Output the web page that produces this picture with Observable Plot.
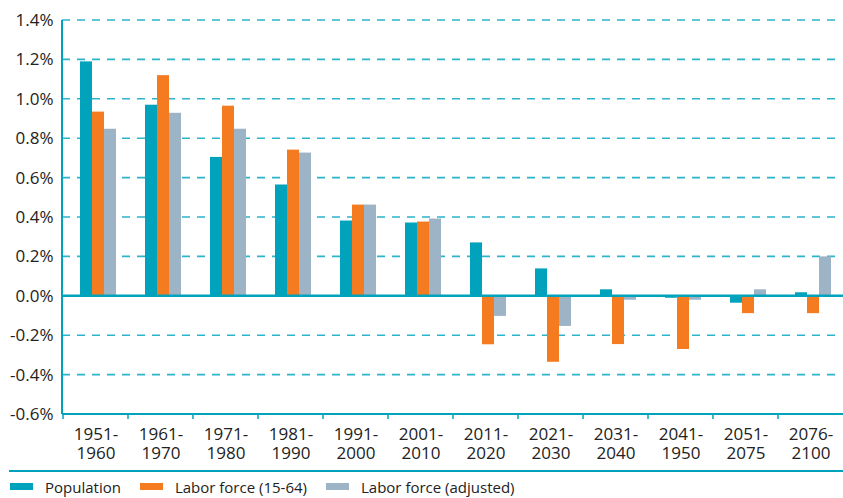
<!DOCTYPE html>
<html>
<head>
<meta charset="utf-8">
<script src="https://cdn.jsdelivr.net/npm/d3@7"></script>
<script src="https://cdn.jsdelivr.net/npm/@observablehq/plot@0.6"></script>
<style>
  html, body { margin: 0; padding: 0; background: #fff; }
  body { font-family: 'Open Sans', sans-serif; color: #222; width: 843px; overflow: hidden; }
  #chart svg { display: block; }
  #legend {
    margin-left: 9px;
    margin-top: 4px;
    border-top: 2.5px solid #00a3bb;
    height: 29px;
    display: flex;
    align-items: center;
    font-size: 15px;
  }
  .item { display: flex; align-items: center; margin-right: 18px; }
  .sw { width: 23px; height: 7px; margin-left: 1px; margin-right: 12px; }
</style>
</head>
<body>
<div id="chart"></div>
<div id="legend"></div>
<script>
// ---- data ----
const periods = ["1951-1960", "1961-1970", "1971-1980", "1981-1990", "1991-2000", "2001-2010",
                 "2011-2020", "2021-2030", "2031-2040", "2041-1950", "2051-2075", "2076-2100"];
const seriesNames = ["Population", "Labor force (15-64)", "Labor force (adjusted)"];
const population         = [1.19, 0.97, 0.705, 0.565, 0.382, 0.372, 0.271, 0.139, 0.033, -0.01, -0.035, 0.018];
const laborForce         = [0.935, 1.12, 0.965, 0.742, 0.463, 0.377, -0.246, -0.335, -0.245, -0.27, -0.088, -0.088];
const laborForceAdjusted = [0.848, 0.929, 0.848, 0.727, 0.463, 0.392, -0.102, -0.153, -0.02, -0.02, 0.033, 0.2];
const seriesColors = ["#00a3bb", "#f47b20", "#9db3c6"];
const yTicks = [-0.6, -0.4, -0.2, 0, 0.2, 0.4, 0.6, 0.8, 1.0, 1.2, 1.4];

const seriesValues = [population, laborForce, laborForceAdjusted];
const data = periods.flatMap((p, i) =>
  seriesNames.map((s, j) => ({ period: p, series: s, value: seriesValues[j][i] })));

// ---- layout ----
const W = 843, H = 466, ML = 62, MR = 0, MT = 20, MB = 52;
const teal = "#00a3bb";

const plot = Plot.plot({
  width: W, height: H,
  marginLeft: ML, marginRight: MR, marginTop: MT, marginBottom: MB,
  style: { fontFamily: "'Open Sans', sans-serif", fontSize: "17px", color: "#222", background: "#fff", overflow: "visible" },
  fx: { domain: periods, padding: 0, label: null },
  x: { domain: seriesNames, paddingInner: 0, paddingOuter: 1.15, align: 0.57 },
  y: { domain: [-0.6, 1.4], label: null },
  color: { domain: seriesNames, range: seriesColors },
  marks: [
    Plot.barY(data, { fx: "period", x: "series", y: "value", fill: "series" }),
    Plot.axisY(yTicks, { tickSize: 0, tickPadding: 10, tickFormat: d => d.toFixed(1) + "%", fontSize: 17, label: null }),
    Plot.axisFx({ anchor: "bottom", tickSize: 0, tickPadding: 12, fontSize: 17, lineHeight: 1.12, label: null,
                  tickFormat: d => d.replace("-", "-\n") }),
    Plot.axisX({ ticks: [], label: null })
  ]
});

// ---- axis lines, gridlines, ticks via the plot's own scales ----
const y = plot.scale("y");
const fx = plot.scale("fx");
const svg = d3.select(plot);
const x0 = ML, x1 = W - MR;
const yBottom = y.apply(-0.6), yTop = y.apply(1.4), yZero = y.apply(0);

const grid = svg.insert("g", "g").attr("class", "grid");
grid.selectAll("line").data(yTicks.filter(t => t !== 0 && t !== -0.6)).join("line")
  .attr("x1", x0).attr("x2", 838)
  .attr("y1", d => y.apply(d)).attr("y2", d => y.apply(d))
  .attr("stroke", "#2bb4ca").attr("stroke-width", 1.6).attr("stroke-dasharray", "8,7");

const ax = svg.append("g").attr("class", "axes");
ax.append("line").attr("x1", x0).attr("x2", x1).attr("y1", yZero).attr("y2", yZero)
  .attr("stroke", teal).attr("stroke-width", 2.5);
ax.append("line").attr("x1", x0).attr("x2", x0).attr("y1", yTop).attr("y2", yBottom)
  .attr("stroke", teal).attr("stroke-width", 2);
ax.append("line").attr("x1", x0).attr("x2", W).attr("y1", yBottom).attr("y2", yBottom)
  .attr("stroke", teal).attr("stroke-width", 2);
ax.selectAll("line.tk").data(periods).join("line").attr("class", "tk")
  .attr("x1", d => fx.apply(d)).attr("x2", d => fx.apply(d))
  .attr("y1", yBottom).attr("y2", yBottom + 5)
  .attr("stroke", teal).attr("stroke-width", 1.5);

document.getElementById("chart").appendChild(plot);

// ---- legend ----
const legend = d3.select("#legend");
seriesNames.forEach((s, i) => {
  const it = legend.append("div").attr("class", "item");
  it.append("div").attr("class", "sw").style("background", seriesColors[i]);
  it.append("span").text(s);
});
</script>
</body>
</html>
